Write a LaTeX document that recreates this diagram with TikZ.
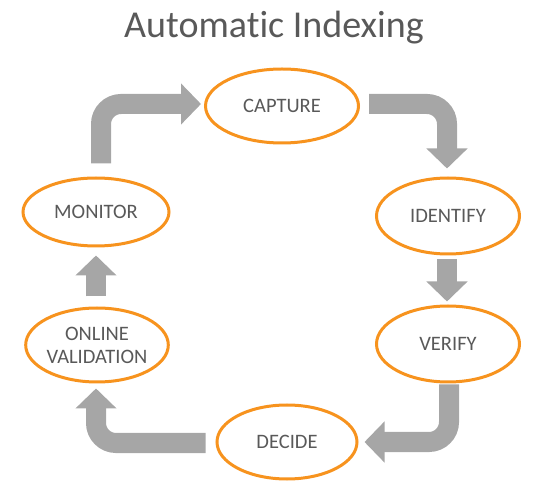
\documentclass[tikz,border=0pt]{standalone}
\usepackage{fontspec}
\setmainfont{Carlito}[Ligatures=NoCommon]
\usetikzlibrary{shapes.geometric,arrows.meta,calc}
\definecolor{ringorange}{HTML}{F7931E}
\definecolor{textgray}{HTML}{595959}
\definecolor{arrowgray}{HTML}{A6A6A6}
\tikzset{
  stage/.style={ellipse, draw=ringorange, line width=3pt, fill=white, inner sep=0pt,
    text=textgray, font=\fontsize{20.5}{23}\selectfont, align=center},
  blockarrow/.style={draw=arrowgray, line width=20pt, rounded corners=20pt,
    -{Triangle[width=40pt,length=20pt]}}
}
\begin{document}
\begin{tikzpicture}[x=1pt,y=-1pt]
\useasboundingbox (0,0) rectangle (560,486);
\node[text=textgray, font=\fontsize{38}{42}\selectfont] (title) at (274,28) {Automatic Indexing};
\node[stage, minimum width=153pt, minimum height=74pt] (capture) at (282,106) {CAPTURE};
\node[stage, minimum width=143pt, minimum height=76pt] (identify) at (448,216) {IDENTIFY};
\node[stage, minimum width=143pt, minimum height=76pt] (verify) at (448,344) {VERIFY};
\node[stage, minimum width=140pt, minimum height=74pt] (decide) at (287,442) {DECIDE};
\node[stage, minimum width=142pt, minimum height=74pt] (online) at (97,345) {ONLINE\\VALIDATION};
\node[stage, minimum width=146pt, minimum height=68pt] (monitor) at (96,212) {MONITOR};
% arrows
\draw[blockarrow] ($(monitor.north)+(5,-13)$) |- ($(capture.west)+(-3,-2)$);
\draw[blockarrow] ($(capture.east)+(9,-2)$) -| ($(identify.north)+(-1,-8)$);
\draw[blockarrow] ($(identify.south)+(-1,4)$) -- ($(verify.north)+(-1,-3)$);
\draw[blockarrow] ($(verify.south)+(1,1)$) |- ($(decide.east)+(6,0)$);
\draw[blockarrow] ($(decide.west)+(-10,1)$) -| ($(online.south)+(-1,5)$);
\draw[blockarrow] ($(online.north)+(-1,-10)$) -- ($(monitor.south)+(0,8)$);
\end{tikzpicture}
\end{document}
